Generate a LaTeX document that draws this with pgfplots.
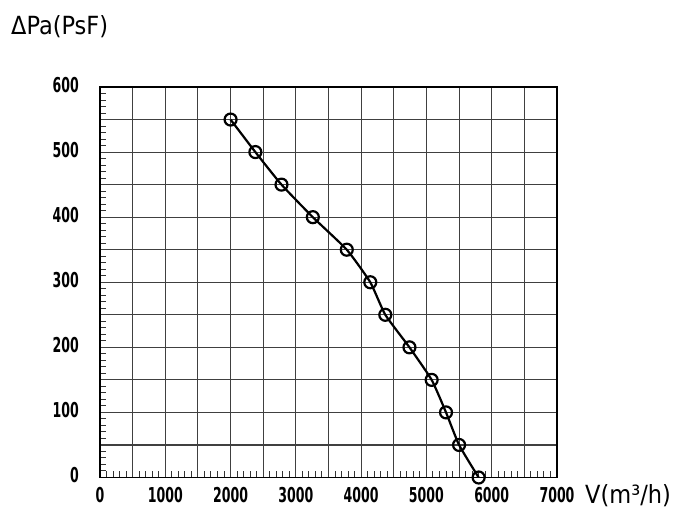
\documentclass[border=0pt]{standalone}
\usepackage{fontspec}
\setmainfont{DejaVu Sans Condensed}
\newfontfamily\tickfont{DejaVu Sans Condensed}[FakeStretch=0.68]
\usepackage{pgfplots}
\pgfplotsset{compat=1.18}
\begin{document}
\begin{tikzpicture}
\path[use as bounding box] (-100bp,-54.5bp) rectangle (600bp,477.5bp);
\begin{axis}[
  at={(0,0)}, anchor=south west,
  scale only axis, width=457bp, height=390.5bp,
  xmin=0, xmax=7000, ymin=0, ymax=600,
  xtick={0,500,...,7000},
  xticklabels={0,{},1000,{},2000,{},3000,{},4000,{},5000,{},6000,{},7000},
  ytick={0,50,...,600},
  yticklabels={0,{},100,{},200,{},300,{},400,{},500,{},600},
  minor x tick num=4, minor y tick num=4,
  tick pos=left, tick align=inside,
  major tick length=0bp, minor tick length=6bp,
  grid=major,
  major grid style={black!75, line width=1.1bp},
  minor tick style={black!80, line width=1bp},
  axis line style={black, line width=1.4bp},
  /pgf/number format/assume math mode=true,
  ticklabel style={font=\tickfont\bfseries\fontsize{20.5bp}{20.5bp}\selectfont, inner sep=0pt},
  xticklabel style={anchor=base, yshift=-24.5bp},
  yticklabel style={anchor=east, xshift=-21bp, yshift=2bp},
  scaled ticks=false,
]
\addplot[black, line width=2.2bp, smooth, tension=0.3, mark=o, mark size=6bp,
  mark options={solid, line width=2.2bp}] coordinates {
  (2000,550) (2380,500) (2780,450) (3260,400) (3780,350) (4140,300)
  (4370,250) (4740,200) (5080,150) (5300,100) (5500,50) (5800,0)
};
\end{axis}
\node[anchor=base west, inner sep=0pt, font=\fontsize{25bp}{25bp}\selectfont] at (-89bp,442.5bp) {ΔPa(PsF)};
\node[anchor=base west, inner sep=0pt, font=\fontsize{25bp}{25bp}\selectfont] at (485bp,-25.5bp) {V(m³/h)};
\end{tikzpicture}
\end{document}
